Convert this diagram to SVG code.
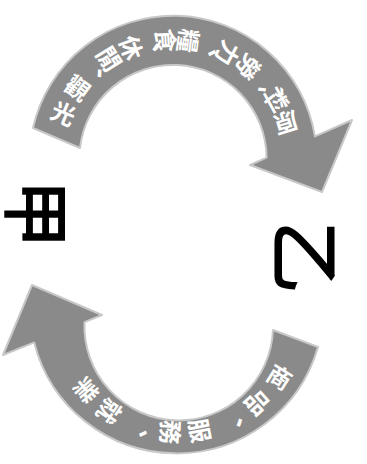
<svg xmlns="http://www.w3.org/2000/svg" width="367" height="464" viewBox="0 0 367 464">
<style>
.arrow{fill:#8a8a8a;stroke:#c8c8c8;stroke-width:2;stroke-linejoin:round}
.lbl{font-family:"Noto Sans CJK TC","Noto Sans CJK SC",sans-serif;font-size:24px;font-weight:bold;fill:#ffffff;text-anchor:middle;dominant-baseline:central}
.big{font-family:"Noto Sans CJK TC","Noto Sans CJK SC",sans-serif;font-weight:normal;fill:#000000;stroke:#000000;stroke-width:2;text-anchor:middle;dominant-baseline:central}
</style>
<rect width="367" height="464" fill="#ffffff"/>
<g id="connectors">
  <g id="arrow-top">
    <path class="arrow" d="M33,128 A143.6,143.6 0 0 1 314.9,136.4 L352,120 L322,192 L250,165 L266.6,157.7 A93.6,93.6 0 0 0 80,148 Z"/>
    <text class="lbl" transform="translate(63.8,112.3) rotate(23)">光</text>
    <text class="lbl" transform="translate(78.3,87.2) rotate(37)">觀</text>
    <text class="lbl" transform="translate(92.1,71.9) rotate(47) translate(6,-6)">、</text>
    <text class="lbl" transform="translate(110.2,58) rotate(58)">閒</text>
    <text class="lbl" transform="translate(132.4,47.2) rotate(70)">休</text>
    <text class="lbl" transform="translate(150.4,42.2) rotate(79) translate(6,-6)">、</text>
    <text class="lbl" transform="translate(166.8,40.2) rotate(87)">食</text>
    <text class="lbl" transform="translate(189.5,41.2) rotate(98)">糧</text>
    <text class="lbl" transform="translate(209.6,45.8) rotate(108) translate(6,-6)">、</text>
    <text class="lbl" transform="translate(228.7,53.9) rotate(118)">力</text>
    <text class="lbl" transform="translate(249.2,67.7) rotate(130)">勞</text>
    <text class="lbl" transform="translate(263.9,82.4) rotate(140) translate(6,-6)">、</text>
    <text class="lbl" transform="translate(276.7,101.1) rotate(151)">料</text>
    <text class="lbl" transform="translate(286.4,123.9) rotate(163)">原</text>
  </g>
  <g id="arrow-bottom">
    <path class="arrow" d="M318,347 A147,147 0 0 1 34.2,342.4 L3,355 L32,285 L102,315 L84.5,322.1 A94,94 0 0 0 273,330 Z"/>
    <text class="lbl" transform="translate(280.2,375.9) rotate(32)">商</text>
    <text class="lbl" transform="translate(258.6,401.5) rotate(48)">品</text>
    <text class="lbl" transform="translate(232.7,419.4) rotate(63) translate(6,-6)">、</text>
    <text class="lbl" transform="translate(201,430.3) rotate(79)">服</text>
    <text class="lbl" transform="translate(171.7,432.3) rotate(93)">務</text>
    <text class="lbl" transform="translate(140.8,426.6) rotate(108) translate(6,-6)">、</text>
    <text class="lbl" transform="translate(110.6,411.9) rotate(124)">就</text>
    <text class="lbl" transform="translate(87.1,391.1) rotate(139)">業</text>
  </g>
</g>
<g id="node-jia">
  <text class="big" font-size="68" transform="translate(40,214) rotate(90)">甲</text>
</g>
<g id="node-yi">
  <text class="big" font-size="72" transform="translate(310,257) rotate(90)">乙</text>
</g>
</svg>
